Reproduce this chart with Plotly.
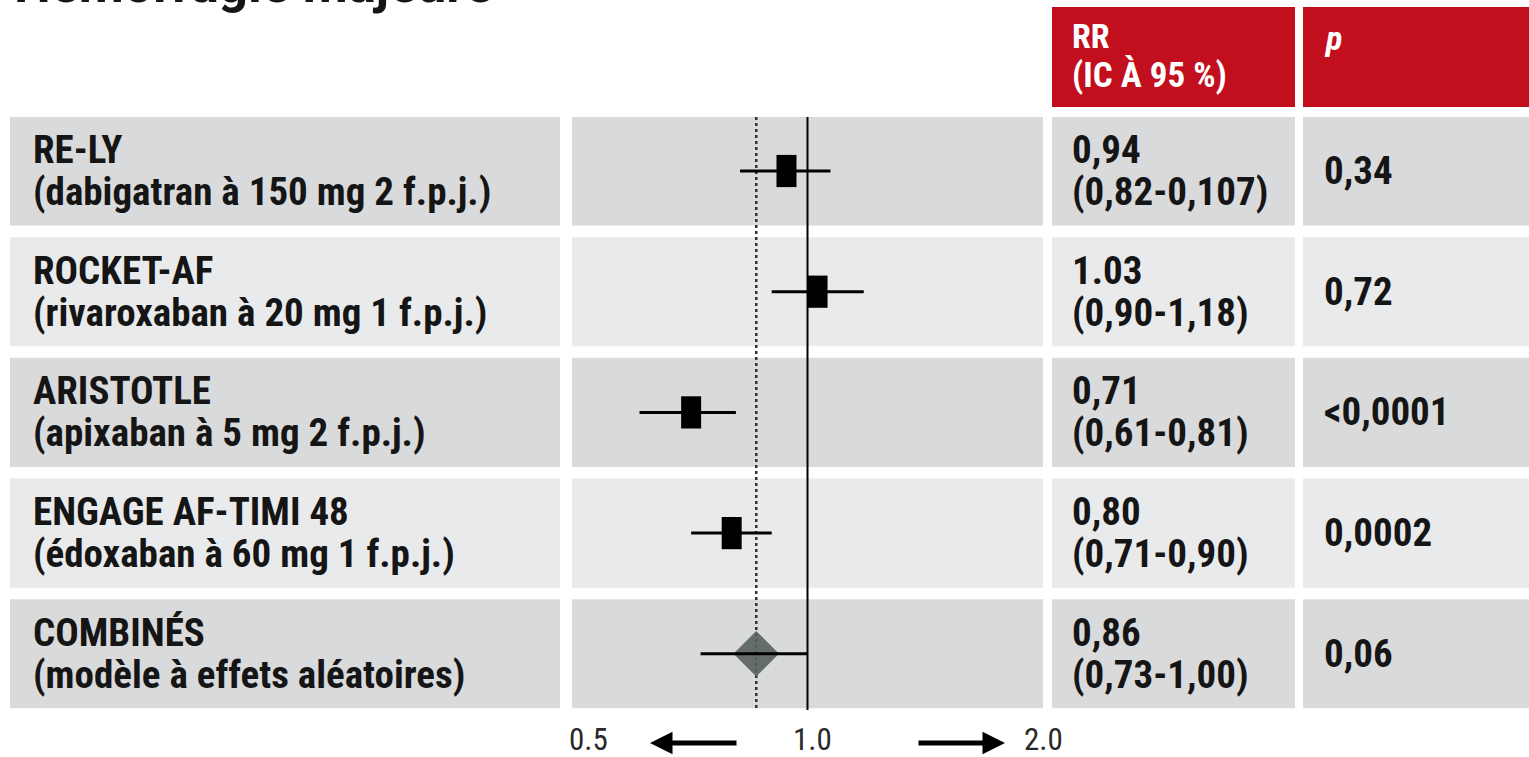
import math
import plotly.graph_objects as go

W, H = 1529, 757

# ---------------- data ----------------
title = "Hémorragie majeure"
trial_names = ["RE-LY", "ROCKET-AF", "ARISTOTLE", "ENGAGE AF-TIMI 48", "COMBINÉS"]
trial_desc = ["(dabigatran à 150 mg 2 f.p.j.)", "(rivaroxaban à 20 mg 1 f.p.j.)",
              "(apixaban à 5 mg 2 f.p.j.)", "(édoxaban à 60 mg 1 f.p.j.)",
              "(modèle à effets aléatoires)"]
rr = [0.94, 1.03, 0.71, 0.80, 0.86]
ci_low = [0.82, 0.90, 0.61, 0.71, 0.73]
ci_high = [1.07, 1.18, 0.81, 0.90, 1.00]
rr_text = ["0,94", "1.03", "0,71", "0,80", "0,86"]
ci_text = ["(0,82-0,107)", "(0,90-1,18)", "(0,61-0,81)", "(0,71-0,90)", "(0,73-1,00)"]
p_text = ["0,34", "0,72", "<0,0001", "0,0002", "0,06"]
header_rr = ["RR", "(IC À 95 %)"]
header_p = "p"
tick_vals = [0.5, 1.0, 2.0]
tick_text = ["0.5", "1.0", "2.0"]
ref_line = 1.0
pooled = rr[-1]

# ---------------- layout helpers ----------------
def px(x):
    return x / W

def py(y):
    return 1 - y / H

ROW0_TOP, ROWN_BOT = 117, 710
ROW_PITCH = 120.7
ROW_CENTER0 = 171
y_top = (ROW0_TOP - ROW_CENTER0) / ROW_PITCH
y_bot = (ROWN_BOT - ROW_CENTER0) / ROW_PITCH
HALF = 0.452
LINE_OFF = 21 / ROW_PITCH

cols = [(10, 560), (572, 1043), (1052, 1295), (1303, 1529)]
DARK = "#d9dadc"
LIGHT = "#e9eaeb"
RED = "#c20f1e"
TXT = "#151515"

FONT = "Liberation Sans Narrow, Roboto Condensed, Roboto, sans-serif"

n = len(trial_names)
rows = list(range(n))

fig = go.Figure()

fig.add_trace(go.Scatter(x=[pooled, pooled], y=[y_top, y_bot], mode="lines",
                         line=dict(color="#333333", width=2.5, dash="dot"),
                         hoverinfo="skip", showlegend=False))
fig.add_trace(go.Scatter(x=[ref_line, ref_line], y=[y_top, y_bot], mode="lines",
                         line=dict(color="black", width=2),
                         hoverinfo="skip", showlegend=False))

fig.add_trace(go.Scatter(x=[rr[-1]], y=[rows[-1]], mode="markers",
                         marker=dict(symbol="diamond", size=35, color="#56615c",
                                     opacity=0.9, line=dict(width=0)),
                         hoverinfo="skip", showlegend=False))

for i in rows:
    fig.add_trace(go.Scatter(x=[ci_low[i], ci_high[i]], y=[i, i], mode="lines",
                             line=dict(color="black", width=3),
                             hoverinfo="skip", showlegend=False))

fig.add_trace(go.Scatter(x=rr[:-1], y=rows[:-1], mode="markers",
                         marker=dict(symbol="line-ns", size=23,
                                     line=dict(width=20, color="black")),
                         hoverinfo="skip", showlegend=False))

shapes = []
for i in rows:
    col = DARK if i % 2 == 0 else LIGHT
    for (x0, x1) in cols:
        shapes.append(dict(type="rect", xref="paper", yref="y",
                           x0=px(x0), x1=px(x1), y0=i - HALF, y1=i + HALF,
                           fillcolor=col, line=dict(width=0), layer="below"))
for (x0, x1) in cols[2:]:
    shapes.append(dict(type="rect", xref="paper", yref="paper",
                       x0=px(x0), x1=px(x1), y0=py(107), y1=py(7),
                       fillcolor=RED, line=dict(width=0), layer="below"))

ann = []
ann.append(dict(text=f"<b>{title}</b>", xref="paper", yref="paper",
                x=px(12), y=py(17), xanchor="left", yanchor="bottom",
                showarrow=False, font=dict(family="Roboto, sans-serif", size=52, color=TXT)))
ann.append(dict(text=f"<b>{header_rr[0]}</b>", xref="paper", yref="paper",
                x=px(1070), y=py(36), xanchor="left", yanchor="middle", align="left",
                showarrow=False, font=dict(family=FONT, size=34, color="white")))
ann.append(dict(text=f"<b>{header_rr[1]}</b>", xref="paper", yref="paper",
                x=px(1070), y=py(76), xanchor="left", yanchor="middle", align="left",
                showarrow=False, font=dict(family=FONT, size=35, color="white")))
ann.append(dict(text=f"<b><i>{header_p}</i></b>", xref="paper", yref="paper",
                x=px(1322), y=py(38), xanchor="left", yanchor="middle", align="left",
                showarrow=False, font=dict(family=FONT, size=34, color="white")))

for i in rows:
    ann.append(dict(text=f"<b>{trial_names[i]}</b>", xref="paper", yref="y",
                    x=px(31), y=i - LINE_OFF, xanchor="left", yanchor="middle", align="left",
                    showarrow=False, font=dict(family=FONT, size=39, color=TXT)))
    ann.append(dict(text=f"<b>{trial_desc[i]}</b>", xref="paper", yref="y",
                    x=px(31), y=i + LINE_OFF, xanchor="left", yanchor="middle", align="left",
                    showarrow=False, font=dict(family=FONT, size=39, color=TXT)))
    ann.append(dict(text=f"<b>{rr_text[i]}</b>", xref="paper", yref="y",
                    x=px(1070), y=i - LINE_OFF, xanchor="left", yanchor="middle", align="left",
                    showarrow=False, font=dict(family=FONT, size=39, color=TXT)))
    ann.append(dict(text=f"<b>{ci_text[i]}</b>", xref="paper", yref="y",
                    x=px(1070), y=i + LINE_OFF, xanchor="left", yanchor="middle", align="left",
                    showarrow=False, font=dict(family=FONT, size=39, color=TXT)))
    ann.append(dict(text=f"<b>{p_text[i]}</b>", xref="paper", yref="y",
                    x=px(1322), y=i, xanchor="left", yanchor="middle", align="left",
                    showarrow=False, font=dict(family=FONT, size=39, color=TXT)))

anchors = ["left", "center", "center"]
shifts = [-5, 5, 0]
for v, t, a, s in zip(tick_vals, tick_text, anchors, shifts):
    ann.append(dict(text=t, xref="x", yref="paper", x=math.log10(v), y=py(739),
                    xanchor=a, yanchor="middle", xshift=s, showarrow=False,
                    font=dict(family=FONT, size=31, color="#2a2a2a")))

ann.append(dict(text="", xref="paper", yref="paper", x=px(650), y=py(743),
                ax=88, ay=0, showarrow=True, arrowhead=2, arrowsize=0.9,
                arrowwidth=5, arrowcolor="black"))
ann.append(dict(text="", xref="paper", yref="paper", x=px(1005), y=py(743),
                ax=-88, ay=0, showarrow=True, arrowhead=2, arrowsize=0.9,
                arrowwidth=5, arrowcolor="black"))

fig.update_layout(
    width=W, height=H,
    margin=dict(l=0, r=0, t=0, b=0),
    paper_bgcolor="white", plot_bgcolor="rgba(0,0,0,0)",
    shapes=shapes, annotations=ann,
    xaxis=dict(type="log", range=[math.log10(tick_vals[0]), math.log10(tick_vals[-1])],
               domain=[px(572), px(1043)], showgrid=False, zeroline=False,
               showticklabels=False, ticks="", showline=False),
    yaxis=dict(range=[y_bot, y_top], domain=[py(ROWN_BOT), py(ROW0_TOP)],
               showgrid=False, zeroline=False, showticklabels=False, ticks="",
               showline=False),
    showlegend=False,
)

fig.write_html("out.html", config={"displayModeBar": False},
               post_script="document.body.style.margin='0';document.body.style.overflow='hidden';")
